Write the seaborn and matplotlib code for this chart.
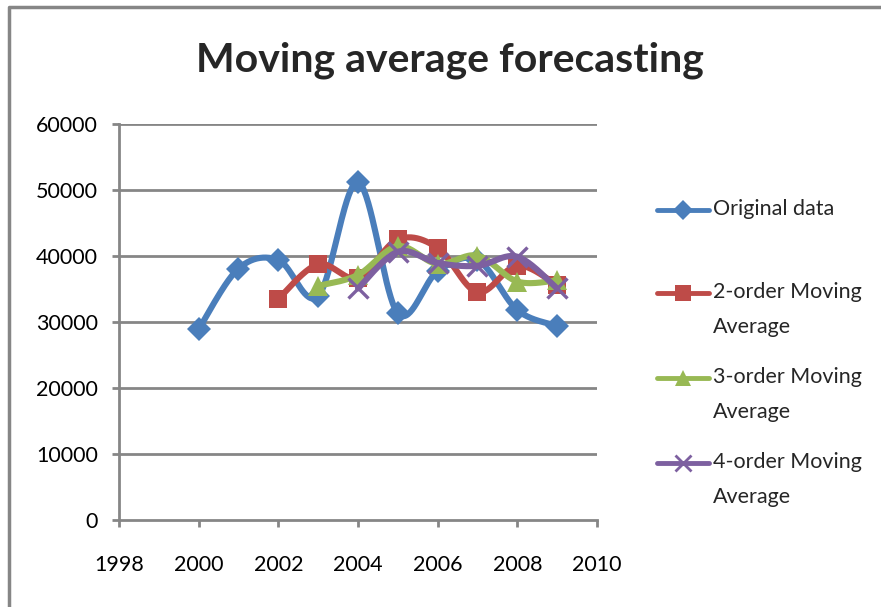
import numpy as np
import pandas as pd
import matplotlib
matplotlib.use("Agg")
import matplotlib.pyplot as plt
from matplotlib.lines import Line2D
import seaborn as sns

# ---- data -------------------------------------------------------------
years_orig = [2000, 2001, 2002, 2003, 2004, 2005, 2006, 2007, 2008, 2009]
original = [28900, 38100, 39400, 33900, 51150, 31300, 37700, 39400, 31800, 29400]

years_ma2 = [2002, 2003, 2004, 2005, 2006, 2007, 2008, 2009]
ma2 = [33500, 38750, 36650, 42520, 41220, 34500, 38550, 35600]

years_ma3 = [2003, 2004, 2005, 2006, 2007, 2008, 2009]
ma3 = [35470, 37130, 41480, 38780, 40050, 36130, 36300]

years_ma4 = [2004, 2005, 2006, 2007, 2008, 2009]
ma4 = [35080, 40640, 38940, 38510, 39890, 35080]

series_names = ["Original data", "2-order Moving Average",
                "3-order Moving Average", "4-order Moving Average"]
legend_labels = ["Original data", "2-order Moving\nAverage",
                 "3-order Moving\nAverage", "4-order Moving\nAverage"]
x_ticks = [1998, 2000, 2002, 2004, 2006, 2008, 2010]
y_ticks = [0, 10000, 20000, 30000, 40000, 50000, 60000]

colors = ["#4A7EBB", "#BE4B48", "#98B954", "#7D60A0"]
markers = ["D", "s", "^", "x"]
msizes = [12, 13, 14, 14]

GRAY = "#868686"
FONT = "Lato"


def smooth_curve(xs, ys, n=40):
    """Catmull-Rom style Bezier smoothing of a polyline (spreadsheet 'smoothed line')."""
    p = np.column_stack([xs, ys]).astype(float)
    m = len(p)
    out = [p[0]]
    t = np.linspace(0, 1, n)[1:]
    for i in range(m - 1):
        p0 = p[i - 1] if i > 0 else p[i]
        p1, p2 = p[i], p[i + 1]
        p3 = p[i + 2] if i + 2 < m else p[i + 1]
        c1 = p1 + (p2 - p0) / 6.0
        c2 = p2 - (p3 - p1) / 6.0
        seg = ((1 - t) ** 3)[:, None] * p1 + (3 * (1 - t) ** 2 * t)[:, None] * c1 \
            + (3 * (1 - t) * t ** 2)[:, None] * c2 + (t ** 3)[:, None] * p2
        out.extend(seg)
    out = np.array(out)
    return out[:, 0], out[:, 1]


sns.set_theme(style="white")
plt.rcParams["font.family"] = [FONT, "DejaVu Sans"]

fig = plt.figure(figsize=(8.81, 6.07), dpi=100)
ax = fig.add_axes([119 / 881, 87 / 607, 478 / 881, 396 / 607])

all_series = [(years_orig, original), (years_ma2, ma2), (years_ma3, ma3), (years_ma4, ma4)]

for k, ((xs, ys), name) in enumerate(zip(all_series, series_names)):
    sx, sy = smooth_curve(xs, ys)
    curve = pd.DataFrame({"year": sx, "value": sy})
    sns.lineplot(data=curve, x="year", y="value", ax=ax, color=colors[k],
                 linewidth=4.4, sort=False, estimator=None, zorder=3 + 2 * k)
    pts = pd.DataFrame({"year": xs, "value": ys})
    if markers[k] == "x":
        ax.plot(pts["year"], pts["value"], linestyle="none", marker="x",
                markersize=msizes[k], markeredgewidth=2.4, color=colors[k],
                zorder=4 + 2 * k)
    else:
        ax.plot(pts["year"], pts["value"], linestyle="none", marker=markers[k],
                markersize=msizes[k], markeredgewidth=0, color=colors[k],
                zorder=4 + 2 * k)

ax.set_xlim(1998, 2010)
ax.set_ylim(0, 60000)
ax.set_xticks(x_ticks)
ax.set_yticks(y_ticks)
ax.set_xticklabels([str(v) for v in x_ticks])
ax.set_yticklabels([str(v) for v in y_ticks])
ax.set_xlabel("")
ax.set_ylabel("")

ax.grid(False)
for v in y_ticks[1:]:
    ax.axhline(v, color=GRAY, linewidth=2, zorder=1)

for side in ["top", "right"]:
    ax.spines[side].set_visible(False)
for side in ["left", "bottom"]:
    ax.spines[side].set_color(GRAY)
    ax.spines[side].set_linewidth(2)
    ax.spines[side].set_zorder(2)

ax.tick_params(axis="both", which="major", direction="out", length=5, width=2,
               color=GRAY, labelsize=15.5, labelcolor="black",
               left=True, bottom=True)
ax.tick_params(axis="x", pad=20)
ax.tick_params(axis="y", pad=10)
for lab in ax.get_xticklabels() + ax.get_yticklabels():
    lab.set_fontfamily([FONT, "DejaVu Sans"])

# title
fig.text(450 / 881, 1 - 60 / 607, "Moving average forecasting",
         ha="center", va="center", fontsize=29.5, fontweight="bold",
         family=[FONT, "DejaVu Sans"])

# legend, drawn entry by entry
entry_y = [210, 293, 378, 463]
for k, (lab, yy) in enumerate(zip(legend_labels, entry_y)):
    yf = 1 - yy / 607
    fig.add_artist(Line2D([657 / 881, 709 / 881], [yf, yf], transform=fig.transFigure,
                          color=colors[k], linewidth=3.5, solid_capstyle="round"))
    if markers[k] == "x":
        fig.add_artist(Line2D([683 / 881], [yf], transform=fig.transFigure,
                              linestyle="none", marker="x", markersize=11,
                              markeredgewidth=2, color=colors[k]))
    else:
        fig.add_artist(Line2D([683 / 881], [yf], transform=fig.transFigure,
                              linestyle="none", marker=markers[k],
                              markersize=msizes[k] - 2, markeredgewidth=0,
                              color=colors[k]))
    fig.text(713 / 881, yf + 11 / 607, lab, ha="left", va="top", fontsize=15.5,
             linespacing=1.95, family=[FONT, "DejaVu Sans"])

# chart frame
fig.add_artist(Line2D([9 / 881, 9 / 881, 1.0], [0.0, 1 - 7 / 607, 1 - 7 / 607],
                      transform=fig.transFigure, color=GRAY, linewidth=2.5))

fig.savefig("out.png", dpi=100)
